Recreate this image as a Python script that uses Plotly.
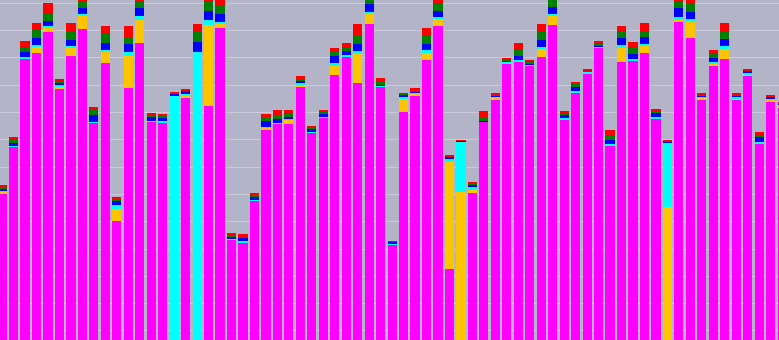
import plotly.graph_objects as go

# Values (gridline spacing = 10 units)
bars = list(range(1, 70))

magenta = [60.4, 77.5, 109.8, 111.7, 119.6, 98.5, 110.7, 120.6, 86.3, 108.0,
           50.2, 98.9, 115.3, 86.6, 86.5, 0.0, 95.2, 0.0, 92.4, 121.1,
           43.5, 42.3, 57.8, 83.8, 85.8, 85.8, 99.7, 82.6, 88.2, 103.6,
           110.4, 100.7, 122.3, 99.7, 41.8, 90.2, 96.0, 109.2, 121.8, 32.7,
           0.0, 60.4, 86.6, 94.8, 108.0, 108.6, 107.1, 110.2, 122.0, 87.5,
           97.0, 104.4, 113.7, 78.1, 108.6, 109.2, 111.7, 87.9, 0.0, 123.3,
           117.4, 94.8, 107.0, 109.5, 94.6, 103.5, 78.7, 93.9, 92.0]

yellow = [0.5, 0.0, 0.0, 2.2, 1.6, 1.2, 3.0, 4.9, 0.0, 4.3,
          4.4, 11.8, 8.5, 0.0, 0.0, 0.0, 1.2, 0.0, 29.7, 1.4,
          0.0, 0.0, 0.0, 0.6, 0.0, 1.5, 0.6, 0.0, 0.0, 3.4,
          0.0, 10.7, 3.8, 0.0, 0.0, 5.0, 1.0, 2.5, 2.5, 39.1,
          60.9, 1.5, 0.0, 0.7, 0.0, 0.0, 0.0, 2.9, 3.4, 0.0,
          0.0, 0.0, 0.0, 0.0, 4.9, 0.0, 2.5, 0.0, 55.3, 0.6,
          5.9, 0.6, 1.0, 3.7, 0.6, 0.6, 0.0, 0.8, 0.5]

cyan = [0.2, 0.4, 0.6, 0.8, 0.5, 0.4, 0.6, 0.6, 0.4, 0.6,
        1.5, 1.6, 1.5, 0.4, 0.4, 96.4, 0.4, 112.3, 1.6, 0.7,
        0.2, 0.6, 0.3, 0.2, 0.5, 0.4, 0.4, 0.4, 0.3, 1.2,
        0.8, 1.2, 0.8, 0.2, 0.3, 0.6, 0.2, 1.2, 0.6, 1.5,
        18.4, 0.7, 0.2, 0.2, 0.5, 0.6, 0.2, 1.0, 0.8, 0.4,
        0.8, 0.5, 0.4, 0.4, 1.2, 0.4, 0.8, 0.3, 23.4, 1.2,
        1.0, 0.4, 0.6, 1.2, 0.6, 0.6, 0.6, 0.4, 0.4]

blue = [1.1, 1.1, 1.8, 2.7, 1.9, 0.8, 2.2, 2.1, 2.5, 2.5,
        1.8, 2.7, 2.8, 1.2, 1.2, 0.5, 1.2, 3.7, 3.3, 2.9,
        1.0, 1.0, 1.1, 2.2, 1.4, 0.6, 0.8, 1.2, 1.2, 2.5,
        1.4, 2.5, 2.8, 0.2, 0.5, 0.8, 0.2, 2.2, 2.1, 0.6,
        0.4, 1.2, 0.2, 0.6, 0.5, 1.6, 0.8, 2.5, 2.5, 1.2,
        1.4, 0.2, 0.6, 1.5, 2.7, 1.7, 2.5, 1.6, 0.8, 3.0,
        2.5, 0.6, 1.5, 2.5, 0.6, 0.6, 1.6, 0.6, 0.5]

green = [0.7, 1.0, 1.8, 2.8, 2.7, 0.7, 3.0, 2.5, 1.6, 3.3,
         0.5, 2.8, 2.5, 0.8, 0.8, 0.2, 0.2, 3.4, 3.3, 3.3,
         0.5, 0.8, 0.6, 1.2, 1.5, 1.1, 1.0, 0.4, 0.6, 1.6,
         1.5, 3.3, 2.0, 1.1, 0.1, 0.2, 0.8, 2.9, 3.0, 0.1,
         0.1, 0.2, 1.3, 0.2, 0.5, 2.3, 0.5, 3.0, 2.5, 0.8,
         1.1, 0.4, 0.6, 1.6, 2.6, 2.5, 2.5, 0.8, 0.1, 2.7,
         3.3, 0.2, 1.6, 2.8, 0.2, 0.1, 0.8, 0.1, 0.1]

red = [0.7, 1.0, 2.1, 2.5, 3.9, 0.5, 3.3, 1.1, 1.1, 2.8,
       0.3, 3.9, 1.0, 0.7, 0.7, 0.3, 0.5, 3.0, 1.0, 1.8,
       0.5, 0.7, 0.6, 1.6, 1.8, 1.6, 0.7, 0.3, 0.4, 1.5,
       1.2, 4.0, 1.0, 1.5, 0.1, 0.3, 0.7, 2.8, 1.2, 0.1,
       0.1, 0.2, 2.2, 0.6, 0.4, 2.5, 0.4, 2.7, 0.4, 0.6,
       1.0, 0.5, 0.8, 2.1, 1.7, 1.9, 2.6, 0.8, 0.1, 1.0,
       1.2, 0.3, 1.2, 3.0, 0.2, 0.2, 1.0, 0.6, 0.2]

series = [
    ("magenta", magenta, "#ff00ff"),
    ("yellow", yellow, "#ffc400"),
    ("cyan", cyan, "#00ffff"),
    ("blue", blue, "#0000ff"),
    ("green", green, "#008000"),
    ("red", red, "#ff0000"),
]

fig = go.Figure()
for name, vals, col in series:
    fig.add_trace(go.Bar(
        x=bars, y=vals, name=name,
        marker=dict(color=col, line=dict(width=0)),
    ))

fig.update_layout(
    width=779, height=340,
    margin=dict(l=0, r=0, t=0, b=0),
    barmode="stack", bargap=0.2,
    showlegend=False,
    paper_bgcolor="#b4b4c8",
    plot_bgcolor="#b4b4c8",
    xaxis=dict(range=[0.814, 68.73], showgrid=False, zeroline=False,
               showticklabels=False, ticks=""),
    yaxis=dict(range=[6.7, 131.2], showgrid=True, gridcolor="#cbcbdb", gridwidth=1,
               tick0=0, dtick=10, zeroline=False, showticklabels=False, ticks=""),
)

fig.write_html("out.html", config={"displayModeBar": False})
